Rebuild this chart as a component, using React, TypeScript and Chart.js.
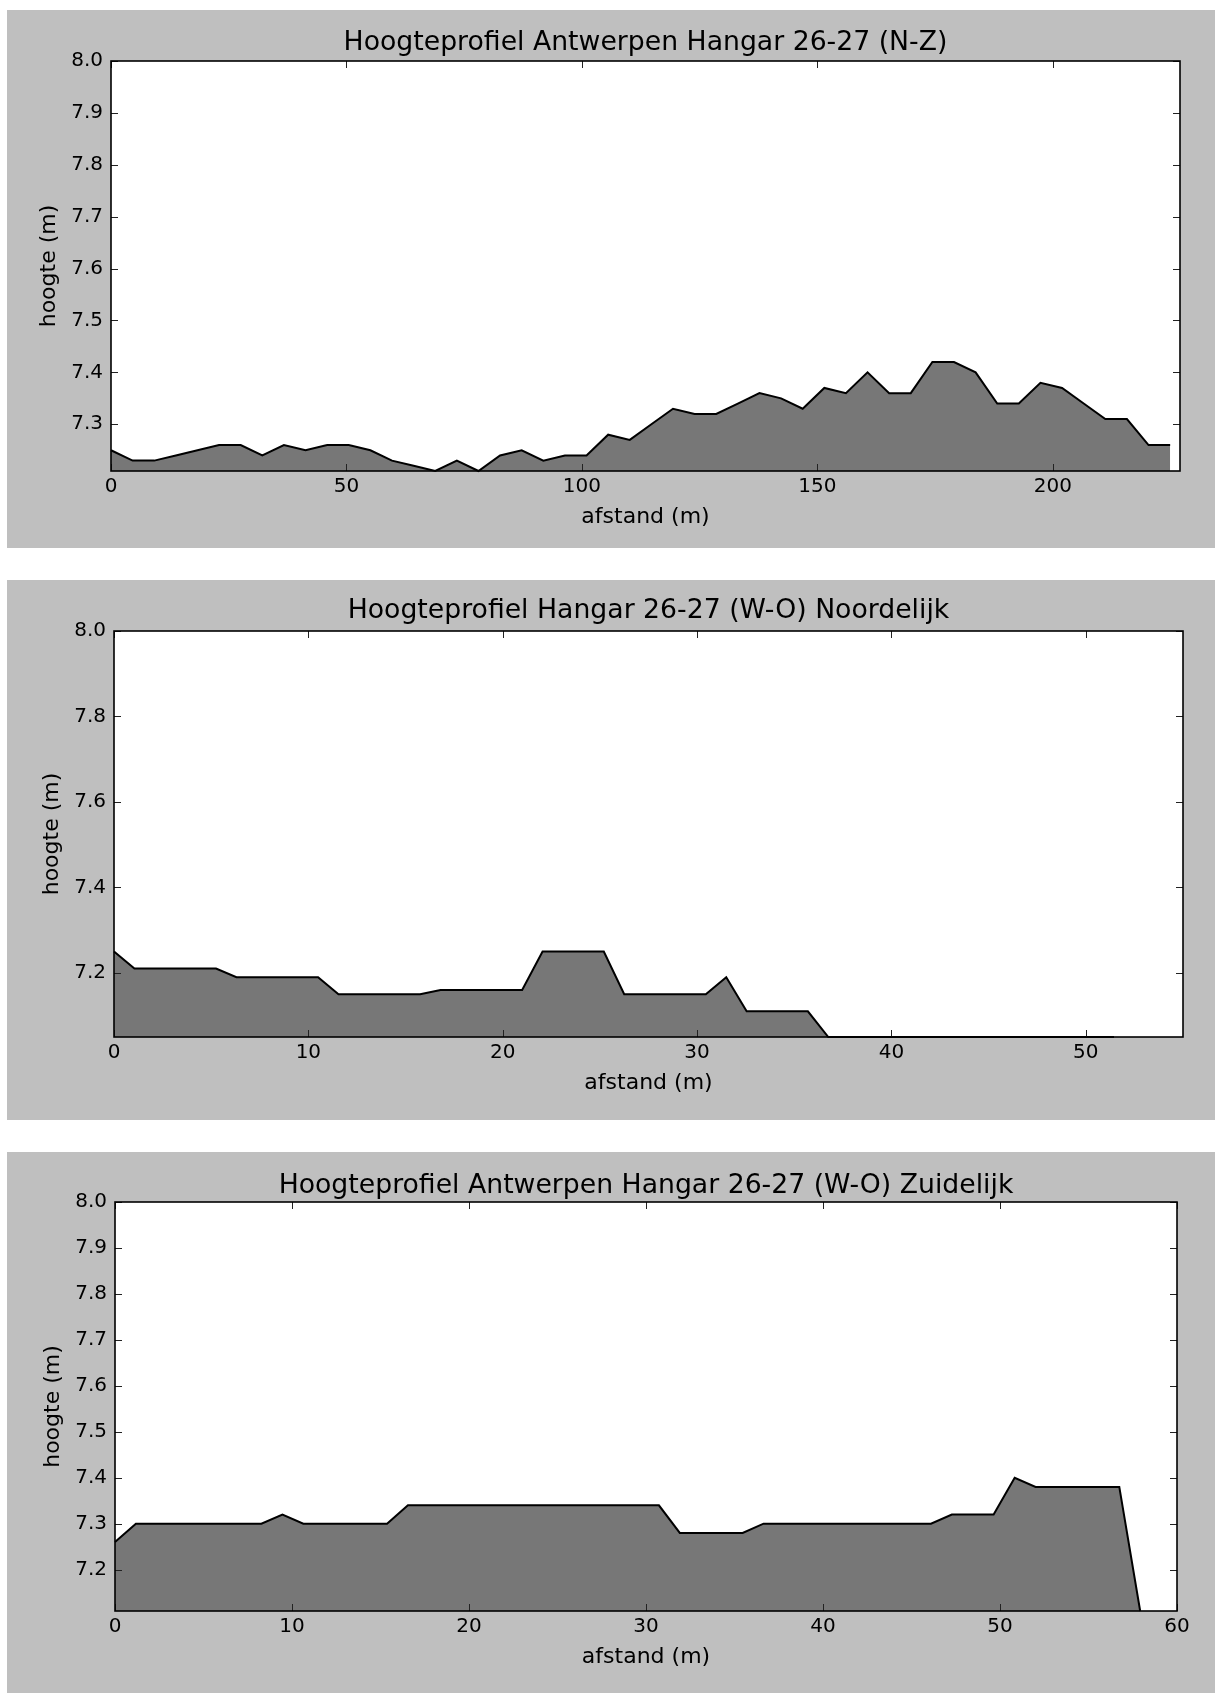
import React, { useEffect, useRef } from "react";
import { Chart, registerables } from "chart.js";

Chart.register(...registerables);

// ---------- data ----------
const nzTitle = "Hoogteprofiel Antwerpen Hangar 26-27 (N-Z)";
const nzDistance = [
  0, 4.59, 9.18, 13.77, 18.36, 22.95, 27.54, 32.13, 36.72, 41.31, 45.9, 50.49, 55.08,
  59.67, 64.26, 68.85, 73.44, 78.03, 82.62, 87.21, 91.8, 96.39, 100.98, 105.57, 110.16,
  114.75, 119.34, 123.93, 128.52, 133.11, 137.7, 142.29, 146.88, 151.47, 156.06, 160.65,
  165.24, 169.83, 174.42, 179.01, 183.6, 188.19, 192.78, 197.37, 201.96, 206.55, 211.14,
  215.73, 220.32, 224.91,
];
const nzHeight = [
  7.25, 7.23, 7.23, 7.24, 7.25, 7.26, 7.26, 7.24, 7.26, 7.25, 7.26, 7.26, 7.25,
  7.23, 7.22, 7.21, 7.23, 7.21, 7.24, 7.25, 7.23, 7.24, 7.24, 7.28, 7.27,
  7.3, 7.33, 7.32, 7.32, 7.34, 7.36, 7.35, 7.33, 7.37, 7.36, 7.4,
  7.36, 7.36, 7.42, 7.42, 7.4, 7.34, 7.34, 7.38, 7.37, 7.34, 7.31,
  7.31, 7.26, 7.26,
];
const nzXTicks = [0, 50, 100, 150, 200];
const nzYTicks = [7.3, 7.4, 7.5, 7.6, 7.7, 7.8, 7.9, 8.0];
const nzXMax = 227;
const nzYMin = 7.21;

const noordTitle = "Hoogteprofiel Hangar 26-27 (W-O) Noordelijk";
const noordDistance = [
  0, 1.05, 2.1, 3.15, 4.2, 5.25, 6.3, 7.35, 8.4, 9.45, 10.5, 11.55, 12.6, 13.65, 14.7,
  15.75, 16.8, 17.85, 18.9, 19.95, 21.0, 22.05, 23.1, 24.15, 25.2, 26.25, 27.3, 28.35,
  29.4, 30.45, 31.5, 32.55, 33.6, 34.65, 35.7, 36.75, 37.8, 38.85, 39.9, 40.95, 42.0,
  43.05, 44.1, 45.15, 46.2, 47.25, 48.3, 49.35, 50.4, 51.45,
];
const noordHeight = [
  7.25, 7.21, 7.21, 7.21, 7.21, 7.21, 7.19, 7.19, 7.19, 7.19, 7.19, 7.15, 7.15, 7.15, 7.15,
  7.15, 7.16, 7.16, 7.16, 7.16, 7.16, 7.25, 7.25, 7.25, 7.25, 7.15, 7.15, 7.15,
  7.15, 7.15, 7.19, 7.11, 7.11, 7.11, 7.11, 7.05, 7.05, 7.05, 7.05, 7.05, 7.05,
  7.05, 7.05, 7.05, 7.05, 7.05, 7.05, 7.05, 7.05, 7.05,
];
const noordXTicks = [0, 10, 20, 30, 40, 50];
const noordYTicks = [7.2, 7.4, 7.6, 7.8, 8.0];
const noordXMax = 55;
const noordYMin = 7.05;

const zuidTitle = "Hoogteprofiel Antwerpen Hangar 26-27 (W-O) Zuidelijk";
const zuidDistance = [
  0, 1.18, 2.36, 3.55, 4.73, 5.91, 7.09, 8.27, 9.46, 10.64, 11.82, 13.0, 14.18, 15.37,
  16.55, 17.73, 18.91, 20.09, 21.28, 22.46, 23.64, 24.82, 26.0, 27.19, 28.37, 29.55,
  30.73, 31.91, 33.1, 34.28, 35.46, 36.64, 37.82, 39.01, 40.19, 41.37, 42.55, 43.73,
  44.92, 46.1, 47.28, 48.46, 49.64, 50.83, 52.01, 53.19, 54.37, 55.55, 56.74, 57.92,
];
const zuidHeight = [
  7.26, 7.3, 7.3, 7.3, 7.3, 7.3, 7.3, 7.3, 7.32, 7.3, 7.3, 7.3, 7.3, 7.3,
  7.34, 7.34, 7.34, 7.34, 7.34, 7.34, 7.34, 7.34, 7.34, 7.34, 7.34, 7.34,
  7.34, 7.28, 7.28, 7.28, 7.28, 7.3, 7.3, 7.3, 7.3, 7.3, 7.3, 7.3,
  7.3, 7.3, 7.32, 7.32, 7.32, 7.4, 7.38, 7.38, 7.38, 7.38, 7.38, 7.11,
];
const zuidXTicks = [0, 10, 20, 30, 40, 50, 60];
const zuidYTicks = [7.2, 7.3, 7.4, 7.5, 7.6, 7.7, 7.8, 7.9, 8.0];
const zuidXMax = 60;
const zuidYMin = 7.11;

const yMax = 8.0;
const xLabel = "afstand (m)";
const yLabel = "hoogte (m)";

// ---------- style ----------
const FONT = "'DejaVu Sans', 'Liberation Sans', sans-serif";
const BG = "#bfbfbf";
const FILL = "#777777";
const CANVAS_W = 1208;

const framePlugin = {
  id: "mplFrame",
  beforeDraw(chart: any) {
    const { ctx, chartArea: a, width, height } = chart;
    ctx.save();
    ctx.fillStyle = BG;
    ctx.fillRect(0, 0, width, height);
    ctx.fillStyle = "#ffffff";
    ctx.fillRect(a.left, a.top, a.right - a.left, a.bottom - a.top);
    ctx.restore();
  },
  afterDatasetsDraw(chart: any) {
    const { ctx, chartArea: a, scales } = chart;
    const L = 7;
    ctx.save();
    ctx.strokeStyle = "#222";
    ctx.lineWidth = 1;
    ctx.beginPath();
    scales.x.ticks.forEach((t: any) => {
      const px = Math.round(scales.x.getPixelForValue(t.value)) + 0.5;
      ctx.moveTo(px, a.bottom);
      ctx.lineTo(px, a.bottom - L);
      ctx.moveTo(px, a.top);
      ctx.lineTo(px, a.top + L);
    });
    scales.y.ticks.forEach((t: any) => {
      const py = Math.round(scales.y.getPixelForValue(t.value)) + 0.5;
      ctx.moveTo(a.left, py);
      ctx.lineTo(a.left + L, py);
      ctx.moveTo(a.right, py);
      ctx.lineTo(a.right - L, py);
    });
    ctx.stroke();
    ctx.strokeStyle = "#000";
    ctx.lineWidth = 1.6;
    ctx.strokeRect(a.left, a.top, a.right - a.left, a.bottom - a.top);
    ctx.restore();
  },
};

type Panel = {
  title: string;
  distance: number[];
  height: number[];
  xTicks: number[];
  yTicks: number[];
  xMax: number;
  yMin: number;
  top: number;
  canvasH: number;
  plotLeft: number;
  plotTop: number;
  plotRight: number;
  plotBottom: number;
  titleCenter: number;
};

const panels: Panel[] = [
  {
    title: nzTitle, distance: nzDistance, height: nzHeight, xTicks: nzXTicks, yTicks: nzYTicks,
    xMax: nzXMax, yMin: nzYMin,
    top: 10, canvasH: 538, plotLeft: 104, plotTop: 51, plotRight: 1173, plotBottom: 461, titleCenter: 33,
  },
  {
    title: noordTitle, distance: noordDistance, height: noordHeight, xTicks: noordXTicks, yTicks: noordYTicks,
    xMax: noordXMax, yMin: noordYMin,
    top: 580, canvasH: 540, plotLeft: 107, plotTop: 51, plotRight: 1176, plotBottom: 457, titleCenter: 31,
  },
  {
    title: zuidTitle, distance: zuidDistance, height: zuidHeight, xTicks: zuidXTicks, yTicks: zuidYTicks,
    xMax: zuidXMax, yMin: zuidYMin,
    top: 1152, canvasH: 541, plotLeft: 108, plotTop: 50, plotRight: 1170, plotBottom: 459, titleCenter: 34,
  },
];

function ProfileChart({ p }: { p: Panel }) {
  const ref = useRef<HTMLCanvasElement | null>(null);
  useEffect(() => {
    if (!ref.current) return;
    const titleSize = 26.7;
    const titleLH = titleSize * 1.2;
    const titlePadTop = p.titleCenter - titleLH / 2;
    const titlePadBottom = p.plotTop - titlePadTop - titleLH;
    const axisTitleSize = 22;
    const axisLH = axisTitleSize * 1.2;
    const xTitleCenter = p.plotBottom + 46.5;
    const xTitlePadBottom = p.canvasH - xTitleCenter - axisLH / 2;
    const yTitleCenter = p.plotLeft - 62;
    const yTitlePadTop = yTitleCenter - axisLH / 2;

    const chart = new Chart(ref.current, {
      type: "line",
      data: {
        datasets: [
          {
            data: p.distance.map((d, i) => ({ x: d, y: p.height[i] })),
            borderColor: "#000",
            borderWidth: 2,
            backgroundColor: FILL,
            fill: "start",
            pointRadius: 0,
            tension: 0,
            clip: 2,
          },
        ],
      },
      options: {
        animation: false,
        responsive: false,
        devicePixelRatio: 1,
        layout: { padding: { top: 0, left: 0, bottom: 0, right: CANVAS_W - p.plotRight } },
        plugins: {
          legend: { display: false },
          tooltip: { enabled: false },
          title: {
            display: true,
            fullSize: false,
            text: p.title,
            color: "#000",
            font: { family: FONT, size: titleSize, weight: "normal", lineHeight: 1.2 },
            padding: { top: titlePadTop, bottom: titlePadBottom },
          },
        },
        scales: {
          x: {
            type: "linear",
            min: 0,
            max: p.xMax,
            grid: { display: false, drawTicks: false },
            border: { display: false },
            afterBuildTicks: (s: any) => {
              s.ticks = p.xTicks.map((v) => ({ value: v }));
            },
            afterFit: (s: any) => {
              s.height = p.canvasH - p.plotBottom;
            },
            ticks: {
              color: "#000",
              padding: 4,
              maxRotation: 0,
              autoSkip: false,
              font: { family: FONT, size: 20 },
              callback: (v: any) => String(Math.round(Number(v))),
            },
            title: {
              display: true,
              text: xLabel,
              color: "#000",
              font: { family: FONT, size: axisTitleSize, lineHeight: 1.2 },
              padding: { top: 0, bottom: xTitlePadBottom },
            },
          },
          y: {
            type: "linear",
            min: p.yMin,
            max: yMax,
            grid: { display: false, drawTicks: false },
            border: { display: false },
            afterBuildTicks: (s: any) => {
              s.ticks = p.yTicks.map((v) => ({ value: v }));
            },
            afterFit: (s: any) => {
              s.width = p.plotLeft;
            },
            ticks: {
              color: "#000",
              padding: 8,
              autoSkip: false,
              font: { family: FONT, size: 20 },
              callback: (v: any) => Number(v).toFixed(1),
            },
            title: {
              display: true,
              text: yLabel,
              color: "#000",
              font: { family: FONT, size: axisTitleSize, lineHeight: 1.2 },
              padding: { top: yTitlePadTop, bottom: 0 },
            },
          },
        },
      },
      plugins: [framePlugin],
    } as any);
    return () => chart.destroy();
  }, [p]);
  return (
    <canvas
      ref={ref}
      width={CANVAS_W}
      height={p.canvasH}
      style={{ position: "absolute", left: 7, top: p.top, width: CANVAS_W, height: p.canvasH, display: "block" }}
    />
  );
}

export default function App() {
  return (
    <div
      style={{
        position: "absolute",
        left: 0,
        top: 0,
        width: 1215,
        height: 1697,
        background: "#ffffff",
        overflow: "hidden",
      }}
    >
      {panels.map((p, i) => (
        <ProfileChart key={i} p={p} />
      ))}
    </div>
  );
}
